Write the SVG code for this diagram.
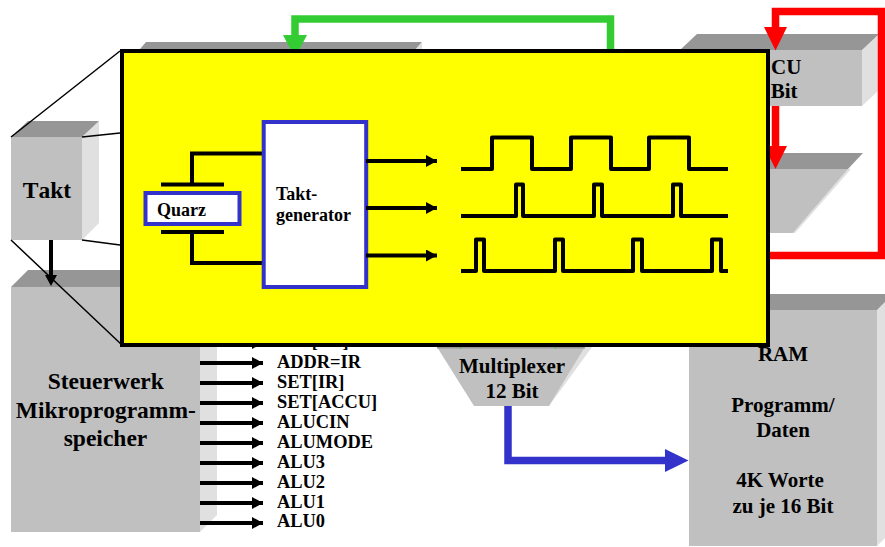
<svg xmlns="http://www.w3.org/2000/svg" width="885" height="547" viewBox="0 0 885 547">
<style>
text{font-family:"Liberation Serif","Times New Roman",serif;font-weight:bold;fill:#000}
.f{fill:#c0c0c0}.t{fill:#969696}.s{fill:#e0e0e0}
.b{font-size:23.5px;font-kerning:none}.m{font-size:21px}.l{font-size:18.4px}.q{font-size:18px}
.w{fill:none;stroke:#000;stroke-width:4;stroke-linejoin:round}
.c{fill:none;stroke:#000;stroke-width:4}
.thin{stroke:#000;stroke-width:1.5;fill:none}
.ah{fill:none;stroke:#000;stroke-width:4}
.ar{fill:none;stroke:#ff0000;stroke-width:7.5}
.ag{fill:none;stroke:#33cc33;stroke-width:7.5}
.ab{fill:none;stroke:#3333cc;stroke-width:7.5}
</style>
<defs>
<marker id="h" markerUnits="userSpaceOnUse" markerWidth="12" markerHeight="12" refX="11" refY="6" orient="auto"><path d="M0 0L11 6L0 12Z" fill="#000"/></marker>
</defs>
<rect width="885" height="547" fill="#fff"/>
<g id="block-top"><polygon class="t" points="140,49 146,42 422,42 416,49"/><polygon class="s" points="416,49 422,42 422,49"/></g>
<g id="takt"><polygon class="s" points="82,137 99,121 99,223 82,240"/><polygon class="t" points="11,137 28,121 99,121 82,137"/><rect class="f" x="11" y="137" width="71" height="103"/><text class="b" x="47" y="198" text-anchor="middle">Takt</text></g>
<g id="steuerwerk"><polygon class="s" points="200,287 217,270 217,515 200,532"/><polygon class="t" points="11,287 28,270 217,270 200,287"/><rect class="f" x="11" y="287" width="189" height="245"/><text class="b" x="105.800" y="389" text-anchor="middle">Steuerwerk</text><text class="b" x="105.800" y="418" text-anchor="middle" textLength="180">Mikroprogramm-</text><text class="b" x="105.500" y="446" text-anchor="middle">speicher</text></g>
<g id="accu"><polygon class="s" points="862,50 879,34 879,90 862,106"/><polygon class="t" points="680,50 697,34 879,34 862,50"/><rect class="f" x="680" y="50" width="182" height="56"/><text class="m" x="771" y="74" text-anchor="middle">ACCU</text><text class="m" x="771" y="98" text-anchor="middle">16 Bit</text></g>
<g id="alu"><polygon class="s" points="848,169 851,169 795,233 793,233"/><polygon class="t" points="600,153 863,153 848,169 600,169"/><polygon class="f" points="600,169 848,169 793,233 600,233"/></g>
<g id="multiplexer"><polygon class="s" points="585,347 592,347 549,406"/><polygon class="f" points="437,347 585,347 549,406 474,406"/><rect class="t" x="437" y="347" width="148" height="1.500"/><text class="m" x="512" y="373" text-anchor="middle">Multiplexer</text><text class="m" x="512" y="398" text-anchor="middle">12 Bit</text></g>
<g id="ram"><polygon class="s" points="877,310 885,302 885,538 877,546"/><polygon class="t" points="689,310 705,294 885,294 885,302 877,310"/><rect class="f" x="689" y="310" width="188" height="236"/><text class="m" x="783" y="361" text-anchor="middle">RAM</text><text class="m" x="783" y="412" text-anchor="middle">Programm/</text><text class="m" x="783" y="437" text-anchor="middle">Daten</text><text class="m" x="780" y="487" text-anchor="middle">4K Worte</text><text class="m" x="783" y="513" text-anchor="middle">zu je 16 Bit</text></g>
<g id="signals">
<text class="l" x="277" y="347">SET[PC]</text>
<text class="l" x="277" y="367.500">ADDR=IR</text><text class="l" x="277" y="387.500">SET[IR]</text><text class="l" x="277" y="407.500">SET[ACCU]</text><text class="l" x="277" y="427.500">ALUCIN</text><text class="l" x="277" y="447.500">ALUMODE</text><text class="l" x="277" y="467.500">ALU3</text><text class="l" x="277" y="487.500">ALU2</text><text class="l" x="277" y="507.500">ALU1</text><text class="l" x="277" y="527">ALU0</text>
</g>
<g id="connectors">
<path class="ah" marker-end="url(#h)" d="M200 343H263"/><path class="ah" marker-end="url(#h)" d="M200 363H263"/><path class="ah" marker-end="url(#h)" d="M200 383H263"/><path class="ah" marker-end="url(#h)" d="M200 403H263"/><path class="ah" marker-end="url(#h)" d="M200 423H263"/><path class="ah" marker-end="url(#h)" d="M200 443H263"/><path class="ah" marker-end="url(#h)" d="M200 463H263"/><path class="ah" marker-end="url(#h)" d="M200 483H263"/><path class="ah" marker-end="url(#h)" d="M200 503H263"/><path class="ah" marker-end="url(#h)" d="M200 523H263"/>
<path d="M51 240V278" stroke="#000" stroke-width="4" fill="none"/><polygon points="45,275 57,275 51,286"/>
<path class="thin" d="M11 137L120 51M82 137L120 133M82 240L120 245M11 240L122 345"/>
<path class="ar" d="M775.500 30V11.500H881.500V255.500H760"/><polygon points="764,27 787,27 775.500,50.500" fill="#f00"/>
<path class="ar" d="M775.500 106V148"/><polygon points="764,146 787,146 775.500,169" fill="#f00"/>
<path class="ag" d="M295 38V19H610.500V60"/><polygon points="283,35 307,35 295,58" fill="#3c3"/>
<path class="ab" d="M508 406V460.500H668"/><polygon points="665,449 665,472 688.500,460.500" fill="#33c"/>
<path d="M460.500 340V349M555.500 340V349" stroke="#3c3" fill="none"/>
</g>
<g id="taktgenerator-detail">
<rect x="122" y="51" width="646" height="294" fill="#ff0" stroke="#000" stroke-width="4"/>
<path class="c" d="M263 153.500H192V184M161 184.500H224M161 232H224M192 232V263H263"/>
<g id="quarz"><rect x="145.500" y="193" width="94" height="31" fill="#fff" stroke="#3333cc" stroke-width="4"/><text class="q" x="157" y="216">Quarz</text></g>
<g id="taktgenerator"><rect x="263.700" y="122" width="102.500" height="165" fill="#fff" stroke="#3333cc" stroke-width="4"/><text class="q" x="276" y="200">Takt-</text><text class="q" x="276" y="221">generator</text></g>
<path class="ah" marker-end="url(#h)" d="M366 161H437"/><path class="ah" marker-end="url(#h)" d="M366 208H437"/><path class="ah" marker-end="url(#h)" d="M366 255.500H437"/>
<path class="w" d="M461 169H492V137.500H532V169H571V137.500H611V169H649V137.500H689V169H728"/>
<path class="w" d="M461 216H516V184.500H523V216H594V184.500H602V216H673V184.500H681V216H728"/>
<path class="w" d="M461 271H476V239.500H484V271H555V239.500H563V271H633V239.500H642V271H712V239.500H721V271H728"/>
</g>
</svg>
